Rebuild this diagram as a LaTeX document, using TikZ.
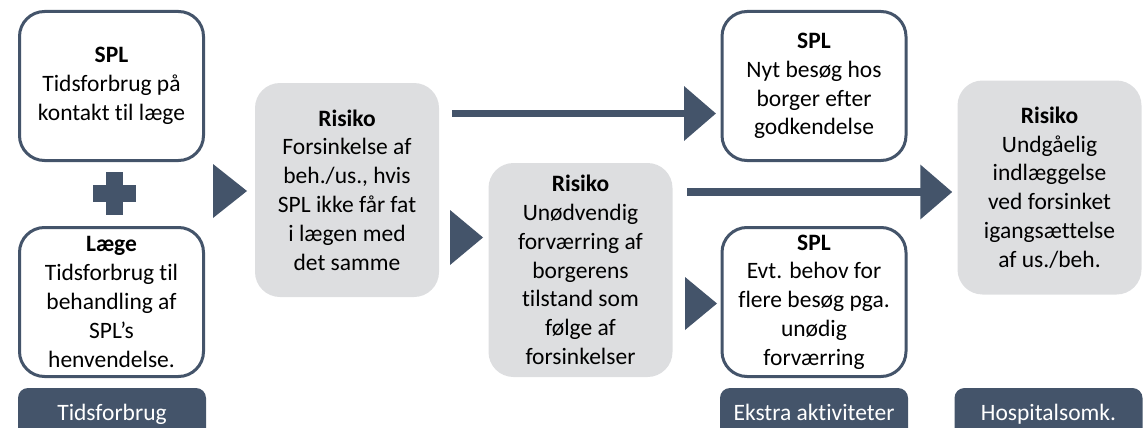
\documentclass[tikz,border=0pt]{standalone}
\usepackage{fontspec}
\setmainfont{Carlito}[Ligatures=NoCommon]
\usetikzlibrary{arrows.meta}
\definecolor{slate}{HTML}{44546A}
\definecolor{riskgray}{HTML}{DDDEE0}
\tikzset{
  txt/.style={align=center, inner sep=0pt, font=\fontsize{23.5}{28.8}\selectfont},
  splbox/.style={txt, draw=slate, line width=3pt, rounded corners=25pt, fill=white,
    minimum width=184pt, minimum height=149pt},
  riskbox/.style={txt, fill=riskgray, rounded corners=25pt,
    minimum width=184pt, minimum height=214pt},
  tagbox/.style={fill=slate, text=white, rounded corners=10pt, inner sep=0pt,
    minimum width=188pt, minimum height=50pt, text height=15pt, text depth=0pt,
    font=\fontsize{23.5}{28}\selectfont},
  bigarrow/.style={draw=slate, line width=7.5pt, -{Triangle[length=32pt,width=53pt]}}
}
\begin{document}
\begin{tikzpicture}[x=1pt,y=-1pt]
\clip (0,0) rectangle (1148,428);
% tidsforbrug
\node[splbox] (splcontact) at (111.5,86) {\textbf{SPL}\\Tidsforbrug på\\kontakt til læge};
\node[splbox] (doctor) at (111.5,302) {\textbf{Læge}\\Tidsforbrug til\\behandling af\\SPL’s\\henvendelse.};
\fill[slate] (93,185) rectangle (136,202);
\fill[slate] (106,172) rectangle (123,215);
\node[tagbox] (tagtime) at (112,413) {Tidsforbrug};
% risici
\fill[slate] (213,164) -- (247,191) -- (213,218) -- cycle;
\node[riskbox] (delay) at (347,190) {\textbf{Risiko}\\Forsinkelse af\\beh./us., hvis\\SPL ikke får fat\\i lægen med\\det samme};
\fill[slate] (450,210) -- (483,237.5) -- (450,265) -- cycle;
\node[riskbox] (worse) at (580.5,270) {\textbf{Risiko}\\Unødvendig\\forværring af\\borgerens\\tilstand som\\følge af\\forsinkelser};
% ekstra aktiviteter
\node[splbox] (revisit) at (814,86) {\textbf{SPL}\\Nyt besøg hos\\borger efter\\godkendelse};
\node[splbox] (morevisits) at (814,302) {\textbf{SPL}\\Evt. behov for\\flere besøg pga.\\unødig\\forværring};
\fill[slate] (685,277) -- (717,303.5) -- (685,330) -- cycle;
\node[tagbox] (tagextra) at (814,413) {Ekstra aktiviteter};
% hospital
\node[riskbox] (admission) at (1049.5,187.5) {\textbf{Risiko}\\Undgåelig\\indlæggelse\\ved forsinket\\igangsættelse\\af us./beh.};
\node[tagbox] (taghosp) at (1048.5,413) {Hospitalsomk.};
% pile
\coordinate (a1) at (452,113.5);
\coordinate (a2) at (687,192);
\draw[bigarrow, shorten >=4.5pt] (a1) -- (a1 -| revisit.west);
\draw[bigarrow, shorten >=5pt] (a2) -- (a2 -| admission.west);
\end{tikzpicture}
\end{document}
